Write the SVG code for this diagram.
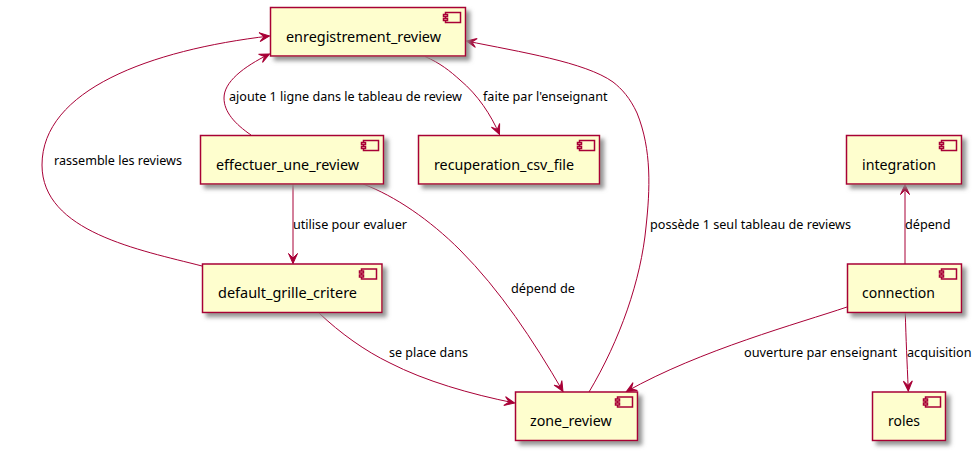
<svg xmlns="http://www.w3.org/2000/svg" width="979" height="453" viewBox="0 0 979 453">
<style>
.b{fill:#FEFECE;stroke:#A80036;stroke-width:1.5;filter:url(#s)}
.i{fill:#FEFECE;stroke:#A80036;stroke-width:1.5}
.n{font:14px "Noto Sans",sans-serif;fill:#000}
.l{font:13px "Noto Sans",sans-serif;fill:#000}
.c{fill:none;stroke:#A80036;stroke-width:1;marker-end:url(#a)}
</style>
<defs>
<filter id="s" x="-10%" y="-20%" width="125%" height="150%"><feGaussianBlur in="SourceAlpha" stdDeviation="2"/><feOffset dx="4" dy="4"/><feColorMatrix values="0 0 0 0 0.25 0 0 0 0 0.25 0 0 0 0 0.25 0 0 0 0.9 0"/><feMerge><feMergeNode/><feMergeNode in="SourceGraphic"/></feMerge></filter>
<marker id="a" markerUnits="userSpaceOnUse" markerWidth="14" markerHeight="14" refX="11" refY="6" orient="auto" overflow="visible"><path d="M11,6 L1,1.5 L5.5,6 L1,10.5 Z" fill="#A80036" stroke="#A80036" stroke-width="1"/></marker>
<g id="ic"><rect class="i" x="-15" y="0" width="15" height="10"/><rect class="i" x="-17" y="2" width="4" height="2"/><rect class="i" x="-17" y="6" width="4" height="2"/></g>
</defs>
<rect width="979" height="453" fill="#fff"/>
<g id="connectors">
<path class="c" d="M202,266 C140,250 42,232 42,165 C42,90 150,50 269.5,36"/>
<path class="c" d="M251,135 C235,124 224,112 224,98 C224,82 243,67 269.5,54"/>
<path class="c" d="M425,56.5 C440,63 450,71 460,80 C478,95 491,115 499.5,134.5"/>
<path class="c" d="M293,184 L293,263.5"/>
<path class="c" d="M363,184 C395,196 430,220 460,250 C500,290 533,340 563,391.5"/>
<path class="c" d="M319,313 C340,333 365,351 390,363 C425,381 470,394 514.5,403"/>
<path class="c" d="M589,392 C620,340 641,280 646,227 C650,190 652,150 637,113 C630,98 622,89 613,82 C585,62 520,52 466.5,41"/>
<path class="c" d="M905,264 L905,184.5"/>
<path class="c" d="M847,307 C800,323 700,350 626.5,391.5"/>
<path class="c" d="M905.3,313 C906,340 907,360 908.3,391"/>
</g>
<g id="enregistrement_review"><rect class="b" x="270.5" y="7.5" width="195" height="48.5"/><use href="#ic" x="460.5" y="12.5"/><text class="n" x="286" y="42" textLength="155" lengthAdjust="spacingAndGlyphs">enregistrement_review</text></g>
<g id="effectuer_une_review"><rect class="b" x="200.5" y="135.5" width="183" height="48.5"/><use href="#ic" x="378.5" y="140.5"/><text class="n" x="216" y="170" textLength="143" lengthAdjust="spacingAndGlyphs">effectuer_une_review</text></g>
<g id="recuperation_csv_file"><rect class="b" x="418.5" y="135.5" width="181" height="48.5"/><use href="#ic" x="594.5" y="140.5"/><text class="n" x="434" y="170" textLength="140" lengthAdjust="spacingAndGlyphs">recuperation_csv_file</text></g>
<g id="default_grille_critere"><rect class="b" x="202.5" y="264" width="179.5" height="48.5"/><use href="#ic" x="376.5" y="269"/><text class="n" x="218" y="298" textLength="139" lengthAdjust="spacingAndGlyphs">default_grille_critere</text></g>
<g id="zone_review"><rect class="b" x="515.5" y="392" width="122" height="48.5"/><use href="#ic" x="632.5" y="397"/><text class="n" x="530" y="426" textLength="81.7" lengthAdjust="spacingAndGlyphs">zone_review</text></g>
<g id="integration"><rect class="b" x="846.5" y="135.5" width="115" height="48.5"/><use href="#ic" x="956.5" y="140.5"/><text class="n" x="862" y="170" textLength="74" lengthAdjust="spacingAndGlyphs">integration</text></g>
<g id="connection"><rect class="b" x="847.5" y="264" width="114" height="48.5"/><use href="#ic" x="956.5" y="269"/><text class="n" x="862" y="298" textLength="73" lengthAdjust="spacingAndGlyphs">connection</text></g>
<g id="roles"><rect class="b" x="872.5" y="392" width="73" height="48.5"/><use href="#ic" x="940.5" y="397"/><text class="n" x="888" y="426" textLength="32" lengthAdjust="spacingAndGlyphs">roles</text></g>
<g id="labels">
<text class="l" x="54" y="165" textLength="128" lengthAdjust="spacingAndGlyphs">rassemble les reviews</text>
<text class="l" x="229" y="101" textLength="233" lengthAdjust="spacingAndGlyphs">ajoute 1 ligne dans le tableau de review</text>
<text class="l" x="483" y="101" textLength="124.5" lengthAdjust="spacingAndGlyphs">faite par l'enseignant</text>
<text class="l" x="293" y="229" textLength="114" lengthAdjust="spacingAndGlyphs">utilise pour evaluer</text>
<text class="l" x="511" y="293" textLength="64" lengthAdjust="spacingAndGlyphs">dépend de</text>
<text class="l" x="389" y="357" textLength="79" lengthAdjust="spacingAndGlyphs">se place dans</text>
<text class="l" x="650" y="229" textLength="201" lengthAdjust="spacingAndGlyphs">possède 1 seul tableau de reviews</text>
<text class="l" x="905" y="229" textLength="45.5" lengthAdjust="spacingAndGlyphs">dépend</text>
<text class="l" x="744" y="357" textLength="153" lengthAdjust="spacingAndGlyphs">ouverture par enseignant</text>
<text class="l" x="907" y="357" textLength="64.5" lengthAdjust="spacingAndGlyphs">acquisition</text>
</g>
</svg>
